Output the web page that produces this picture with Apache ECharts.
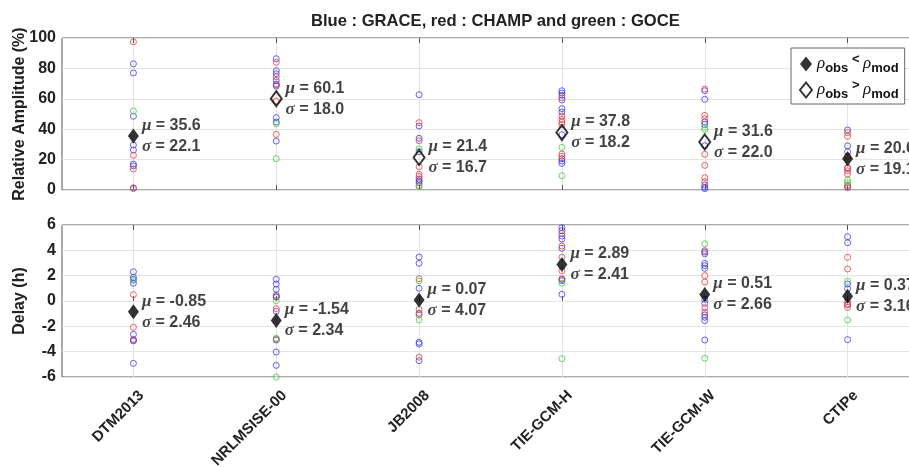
<!DOCTYPE html>
<html>
<head>
<meta charset="utf-8">
<script src="https://cdn.jsdelivr.net/npm/echarts@6/dist/echarts.min.js"></script>
<style>
  html, body { margin: 0; background: #fff; }
  #chart { width: 909px; height: 467px; }
</style>
</head>
<body>
<div id="chart"></div>
<script>
// models on the x axis
const models = ['DTM2013', 'NRLMSISE-00', 'JB2008', 'TIE-GCM-H', 'TIE-GCM-W', 'CTIPe']

// relative amplitude (%) per model, one list per satellite
const ampGrace = [
  [83, 77, 48.5, 29.6, 26.3, 17, 15.8, 1],
  [86.4, 78.5, 76.5, 72, 69.7, 68.4, 47.6, 44.7, 32.2],
  [62.7, 42.1, 34, 25.2, 7.2, 5.9, 4.8],
  [65.3, 63.8, 62.3, 59.2, 53.5, 51.3, 36.4, 20.6, 19.1, 17.5],
  [65.3, 59.7, 44.7, 43.2, 29.2, 3.3, 1.8, 0.9],
  [39.5, 29, 25.2, 14.3, 2.3]
]
const ampChamp = [
  [97.5, 22.8, 13.8, 1.5],
  [84, 74.5, 69.2, 58.5, 36.6],
  [44.3, 32.4, 15.3, 10.3, 8.8, 3],
  [60.7, 48.7, 46.5, 44.7, 43, 23.7, 22.2],
  [66.4, 49.1, 46.9, 23.5, 16.2, 8.1, 5.5],
  [37.7, 35.3, 22.4, 14.8, 12.7, 10.5, 3.3, 1.5]
]
const ampGoce = [
  [52],
  [43.6, 20.6],
  [27, 2.2],
  [28, 9.4],
  [41.2, 39.7],
  [6.6, 4.8]
]
const ampMean = [35.6, 60.1, 21.4, 37.8, 31.6, 20.6]
const ampStd = [22.1, 18.0, 16.7, 18.2, 22.0, 19.1]
// filled diamond: rho_obs < rho_mod
const ampFilled = [true, false, false, false, false, true]

// delay (h) per model, one list per satellite
const delayGrace = [
  [2.31, 1.87, 1.71, 1.4, -2.63, -3.08, -3.15, -4.92],
  [1.71, 1.34, 0.92, 0.45, 0.3, -0.81, -3.08, -4.03, -5.08],
  [3.47, 2.97, 1.0, -0.97, -3.26, -3.39, -4.71],
  [5.79, 5.55, 5.13, 4.89, 4.16, 1.71, 1.6, 0.53],
  [3.87, 3.73, 2.97, 2.79, 2.58, 0.13, -0.18, -1.1, -1.29, -1.55, -3.08],
  [5.08, 4.6, 1.34, 0.97, -0.26, -3.05]
]
const delayChamp = [
  [0.5, -2.08, -3.05],
  [0.34, -0.6, -3.0],
  [1.76, -0.66, -1.1, -4.44],
  [5.34, 4.34, 3.45, 2.39, 1.75],
  [3.97, 2.0, 1.5, -0.53, -0.89],
  [3.45, 2.53, -0.05, -0.3, -0.5]
]
const delayGoce = [
  [1.62],
  [0.03, -2.95, -6.0],
  [1.58, -1.5],
  [1.4, -4.55],
  [4.52, -4.52],
  [1.55, -1.5]
]
const delayMean = [-0.85, -1.54, 0.07, 2.89, 0.51, 0.37]
const delayStd = [2.46, 2.34, 4.07, 2.41, 2.66, 3.16]

const FONT = 'Liberation Sans, Arial, sans-serif'
const BLUE = 'rgb(60,60,235)'
const RED = 'rgb(235,60,60)'
const GREEN = 'rgb(60,205,60)'

const chart = echarts.init(document.getElementById('chart'))

function points(lists) {
  return lists.flatMap((vals, i) => vals.map(v => [i, v]))
}

function circles(lists, color, panel) {
  return {
    type: 'scatter',
    xAxisIndex: panel,
    yAxisIndex: panel,
    symbol: 'circle',
    symbolSize: 6,
    itemStyle: { color: 'transparent', borderColor: color, borderWidth: 1 },
    emphasis: { disabled: true },
    z: 2,
    data: points(lists)
  }
}

const muRich = {
  g: { fontFamily: 'Liberation Serif, serif', fontStyle: 'italic', fontWeight: 'bold', fontSize: 17, color: '#111' },
  b: { fontFamily: FONT, fontWeight: 'bold', fontSize: 16, color: '#111' }
}

function meanSeries(name, panel, means, stds, digits, keep, filled) {
  return {
    name: name,
    type: 'scatter',
    xAxisIndex: panel,
    yAxisIndex: panel,
    symbol: 'diamond',
    symbolSize: [11, 15],
    itemStyle: filled
      ? { color: '#000' }
      : { color: 'rgba(255,255,255,0)', borderColor: '#000', borderWidth: 2 },
    emphasis: { disabled: true },
    z: 5,
    label: {
      show: true,
      position: 'right',
      distance: 3,
      lineHeight: 21,
      formatter: p => {
        const i = p.value[0]
        return '{g|μ}{b| = ' + means[i].toFixed(digits) + '}\n{g|σ}{b| = ' + stds[i].toFixed(digits) + '}'
      },
      rich: muRich
    },
    data: means.map((m, i) => [i, m]).filter((d, i) => keep[i])
  }
}

const allTrue = models.map(() => true)

const gridLeft = 62
const gridWidth = 857

function catAxis(gridIndex, position, showLabels) {
  return {
    type: 'category',
    gridIndex: gridIndex,
    position: position,
    data: models,
    boundaryGap: true,
    axisLine: { show: false },
    axisTick: { show: true, inside: true, length: 5, alignWithLabel: true, lineStyle: { color: '#555' } },
    splitLine: { show: position === 'bottom', alignWithLabel: true, lineStyle: { color: '#e4e4e4' } },
    axisLabel: {
      show: showLabels,
      rotate: 45,
      margin: 8,
      interval: 0,
      verticalAlign: 'top',
      padding: [4, 0, 0, 0],
      fontFamily: FONT,
      fontWeight: 'bold',
      fontSize: 15,
      color: '#222'
    }
  }
}

function valAxis(gridIndex, min, max, interval, name) {
  return {
    type: 'value',
    gridIndex: gridIndex,
    min: min,
    max: max,
    interval: interval,
    name: name,
    nameLocation: 'middle',
    nameGap: 34,
    nameMoveOverlap: false,
    nameTextStyle: { fontFamily: FONT, fontWeight: 'bold', fontSize: 16, color: '#222' },
    axisLine: { show: false },
    axisTick: { show: false },
    splitLine: { lineStyle: { color: '#e4e4e4' } },
    axisLabel: { fontFamily: FONT, fontWeight: 'bold', fontSize: 16, color: '#222', margin: 6 }
  }
}

const legendText = {
  lt: '{g|ρ}{s|obs}{n| < }{g|ρ}{s|mod}',
  gt: '{g|ρ}{s|obs}{n| > }{g|ρ}{s|mod}'
}

const gridBase = {
  left: gridLeft,
  width: gridWidth,
  height: 152,
  outerBoundsMode: 'none',
  containLabel: false,
  show: true,
  borderColor: '#555',
  borderWidth: 1,
  backgroundColor: 'transparent'
}

chart.setOption({
  animation: false,
  backgroundColor: '#fff',
  title: {
    text: 'Blue : GRACE, red : CHAMP and green : GOCE',
    left: 306,
    top: 8,
    textStyle: { fontFamily: FONT, fontWeight: 'bold', fontSize: 16.6, color: '#222' }
  },
  legend: {
    orient: 'vertical',
    left: 791,
    top: 48,
    padding: [5, 6, 3, 8],
    itemGap: 4,
    itemWidth: 12,
    itemHeight: 15,
    backgroundColor: '#fff',
    borderColor: '#666',
    borderWidth: 1,
    borderRadius: 0,
    data: ['lt', 'gt'],
    formatter: n => legendText[n],
    textStyle: {
      fontFamily: FONT,
      lineHeight: 22,
      rich: {
        g: { fontFamily: 'Liberation Serif, serif', fontStyle: 'italic', fontSize: 17, color: '#111', verticalAlign: 'middle' },
        s: { fontFamily: FONT, fontWeight: 'bold', fontSize: 13, color: '#111', verticalAlign: 'bottom', padding: [8, 0, 0, 0] },
        n: { fontFamily: FONT, fontWeight: 'bold', fontSize: 13, color: '#111', verticalAlign: 'top', padding: [0, 0, 4, 0] }
      }
    }
  },
  grid: [
    Object.assign({ top: 38 }, gridBase),
    Object.assign({ top: 225 }, gridBase)
  ],
  xAxis: [
    catAxis(0, 'bottom', false),
    catAxis(1, 'bottom', true),
    catAxis(0, 'top', false),
    catAxis(1, 'top', false)
  ],
  yAxis: [
    valAxis(0, 0, 100, 20, 'Relative Amplitude (%)'),
    valAxis(1, -6, 6, 2, 'Delay (h)')
  ],
  series: [
    circles(ampGrace, BLUE, 0),
    circles(ampChamp, RED, 0),
    circles(ampGoce, GREEN, 0),
    circles(delayGrace, BLUE, 1),
    circles(delayChamp, RED, 1),
    circles(delayGoce, GREEN, 1),
    meanSeries('lt', 0, ampMean, ampStd, 1, ampFilled, true),
    meanSeries('gt', 0, ampMean, ampStd, 1, ampFilled.map(f => !f), false),
    meanSeries('lt', 1, delayMean, delayStd, 2, allTrue, true)
  ]
})
</script>
</body>
</html>
